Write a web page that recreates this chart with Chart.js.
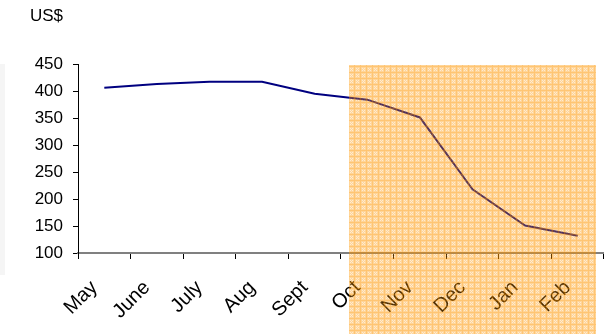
<html>
<body style="margin:0;background:#fff">
  <script src="https://cdn.jsdelivr.net/npm/chart.js@4.4.0/dist/chart.umd.min.js"></script>
  <canvas id="myChart" width="612" height="334"></canvas>
  <script>
    var months = ['May', 'June', 'July', 'Aug', 'Sept', 'Oct', 'Nov', 'Dec', 'Jan', 'Feb']
    var prices = [406, 413, 417, 417, 395, 384, 351, 218, 151, 132]
    var yTicks = [100, 150, 200, 250, 300, 350, 400, 450]
    // shaded span, in category units (May = 0)
    var shadeFrom = 4.66
    var shadeTo = 9.35
    var shadeTopValue = 449

    // small tile: light orange with white flecks and darker grid lines
    function makePattern(ctx) {
      var t = document.createElement('canvas')
      t.width = 6; t.height = 6
      var c = t.getContext('2d')
      c.fillStyle = 'rgba(255,150,0,0.4)'
      c.fillRect(0, 0, 6, 6)
      var flecks = [[2, 2], [4, 4], [2, 4], [4, 2], [3, 3]]
      flecks.forEach(function(p) {
        c.clearRect(p[0], p[1], 1, 1)
        c.fillStyle = 'rgba(255,170,60,0.25)'
        c.fillRect(p[0], p[1], 1, 1)
      })
      c.clearRect(0, 0, 6, 1)
      c.clearRect(0, 0, 1, 6)
      c.fillStyle = 'rgba(255,150,0,0.55)'
      c.fillRect(0, 0, 6, 1)
      c.fillRect(0, 1, 1, 5)
      return ctx.createPattern(t, 'repeat')
    }

    var extras = {
      id: 'extras',
      beforeDraw: function(chart) {
        var ctx = chart.ctx
        ctx.save()
        ctx.fillStyle = '#f5f5f5'
        ctx.fillRect(0, 64, 5, 211)
        ctx.fillStyle = '#000'
        ctx.font = '17px "Liberation Sans", Arial, sans-serif'
        ctx.textBaseline = 'top'
        ctx.fillText('US$', 30, 8)
        ctx.restore()
      },
      afterDraw: function(chart) {
        var ctx = chart.ctx
        var x = chart.scales.x, y = chart.scales.y
        var x0 = Math.round(x.getPixelForValue(shadeFrom))
        var x1 = Math.round(x.getPixelForValue(shadeTo))
        var y0 = Math.round(y.getPixelForValue(shadeTopValue))
        ctx.save()
        ctx.fillStyle = makePattern(ctx)
        ctx.fillRect(x0, y0, x1 - x0, chart.height - y0)
        ctx.restore()
      }
    }

    var ctx = document.getElementById('myChart').getContext('2d')
    var myChart = new Chart(ctx, {
      type: 'line',
      data: {
        labels: months,
        datasets: [{
          label: 'US$',
          data: prices,
          borderColor: '#000080',
          borderWidth: 2,
          pointRadius: 0,
          tension: 0,
          fill: false
        }]
      },
      options: {
        responsive: false,
        animation: false,
        layout: { padding: { top: 64, right: 7, left: 0, bottom: 0 } },
        plugins: {
          legend: { display: false },
          tooltip: { enabled: false }
        },
        scales: {
          x: {
            offset: true,
            grid: { offset: true, drawOnChartArea: false, drawTicks: true, tickLength: 6, color: '#000' },
            border: { display: true, color: '#808080', width: 2 },
            ticks: {
              color: '#000',
              maxRotation: 45,
              minRotation: 45,
              padding: 17,
              labelOffset: -10,
              font: { family: '"Liberation Sans", Arial, sans-serif', size: 20 }
            },
            afterFit: function(s) { s.height = 81 }
          },
          y: {
            min: 100,
            max: 450,
            afterBuildTicks: function(s) { s.ticks = yTicks.map(function(v) { return { value: v } }) },
            grid: { drawOnChartArea: false, drawTicks: true, tickLength: 5, color: '#000' },
            border: { display: true, color: '#000', width: 1 },
            ticks: {
              color: '#000',
              padding: 10,
              font: { family: '"Liberation Sans", Arial, sans-serif', size: 17 }
            },
            afterFit: function(s) { s.width = 78 }
          }
        }
      },
      plugins: [extras]
    })
  </script>
</body>
</html>
